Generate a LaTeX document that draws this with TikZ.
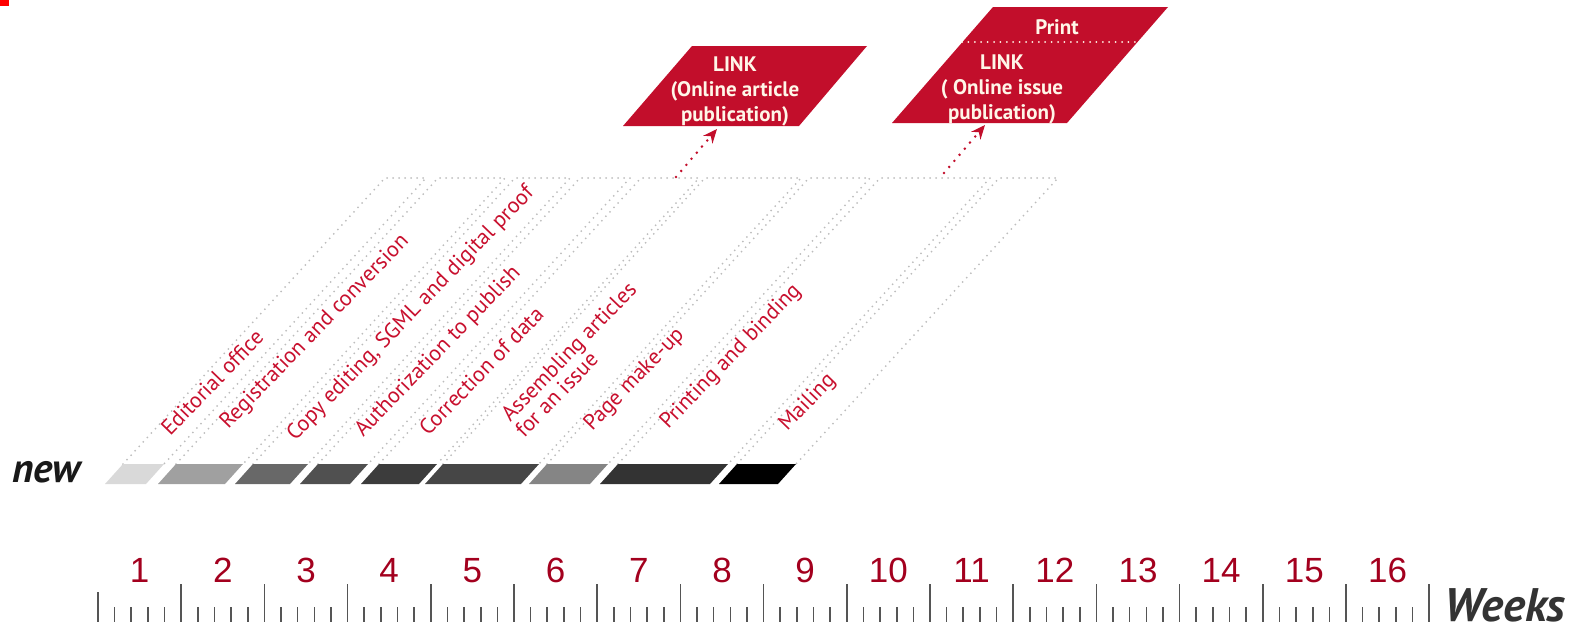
\documentclass[tikz,border=0pt]{standalone}
\usepackage{fontspec}
\setmainfont{PT Sans}
\newfontfamily\numfont{Liberation Sans}
\usepackage{tikz}
\usetikzlibrary{arrows.meta}
\definecolor{boxred}{HTML}{C20E2B}
\definecolor{labred}{HTML}{C8102E}
\definecolor{numred}{HTML}{A3001E}
\definecolor{creme}{HTML}{FFF6E8}
\definecolor{dotgray}{HTML}{BDBDBD}
\definecolor{tickgray}{HTML}{555555}
\definecolor{barA}{HTML}{D9D9D9}
\definecolor{barB}{HTML}{A0A0A0}
\definecolor{barC}{HTML}{686868}
\definecolor{barD}{HTML}{505050}
\definecolor{barE}{HTML}{3C3C3C}
\definecolor{barF}{HTML}{464646}
\definecolor{barG}{HTML}{858585}
\definecolor{barH}{HTML}{333333}
\definecolor{barI}{HTML}{000000}

\begin{document}
\begin{tikzpicture}[x=0.5pt,y=-0.5pt,
  guide/.style={dotgray, line width=1pt, dash pattern=on 0pt off 3pt, line cap=round},
  stage/.style={labred, rotate=46, anchor=base west, inner sep=0pt, font=\fontsize{11}{11}\selectfont},
  linkarrow/.style={boxred, line width=1.4pt, dash pattern=on 0pt off 4pt, line cap=round, -{Stealth[length=7pt,width=6pt]}},
  boxtext/.style={creme, inner sep=0pt, align=center, font=\bfseries\fontsize{10.5}{12.5}\selectfont},
  tick/.style={tickgray, line width=0.8pt},
  weeknum/.style={numred, anchor=base, inner sep=0pt, font=\numfont\fontsize{17.5}{17.5}\selectfont}]
\useasboundingbox (0,0) rectangle (1581,632);
\fill[red] (0,0) rectangle (9,6);

% bars and their dotted guides
\foreach \l/\r/\c in {123/164/barA, 176/243/barB, 253/308/barC, 318/368/barD, 379/437/barE,
                      443/539/barF, 547/608/barG, 618/728/barH, 737/796/barI}{
  \draw[guide] (\l,464) -- ++(262,-286) -- (\r+262,178) -- (\r,464);
  \fill[\c] (\l,464) -- (\r,464) -- (\r-18,484) -- (\l-18,484) -- cycle;
}

% stages
\node[stage] (lab1) at (170,437) {Editorial office};
\node[stage] (lab2) at (228,430) {Registration and conversion};
\node[stage] (lab3) at (295,442) {Copy editing, SGML and digital proof};
\node[stage] (lab4) at (363,438) {Authorization to publish};
\node[stage] (lab5) at (428,437) {Correction of data};
\node[stage] (lab6a) at (510,423) {Assembling articles};
\node[stage] (lab6b) at (524,439) {for an issue};
\node[stage] (lab7) at (592,432) {Page make-up};
\node[stage] (lab8) at (668,430) {Printing and binding};
\node[stage] (lab9) at (787,432) {Mailing};

\node[anchor=base west, inner sep=0pt, font=\bfseries\itshape\fontsize{20.5}{20.5}\selectfont, black!90] (new) at (12,482) {new};

% online publication boxes
\fill[boxred] (623,126) -- (692,46) -- (867,46) -- (799,126) -- cycle;
\node[boxtext] (link1) at (735,91) {LINK\\(Online article\\publication)};
\fill[boxred] (892,123) -- (993,7) -- (1168,7) -- (1067,123) -- cycle;
\draw[creme, line width=1pt, dash pattern=on 0pt off 3.2pt, line cap=round] (962,42) -- (1137,42);
\node[boxtext] (print) at (1057,27) {Print};
\node[boxtext] (link2) at (1002,89) {LINK\\( Online issue\\publication)};

\coordinate (s1) at (676,177);
\coordinate (t1) at (717,129);
\coordinate (s2) at (944,173);
\coordinate (t2) at (985,125);
\draw[linkarrow] (s1) -- (t1);
\draw[linkarrow] (s2) -- (t2);

% week ruler
\draw[tick] (98,592) -- (98,622);
\foreach \k in {1,...,16}
  \draw[tick] ({98+83.2*\k},584) -- ({98+83.2*\k},622);
\foreach \k in {0,...,15}
  \foreach \m in {1,...,4}
    \draw[tick] ({98+83.2*(\k+\m/5)},607) -- ({98+83.2*(\k+\m/5)},622);
\foreach \k in {1,...,16}
  \node[weeknum] (w\k) at ({98+83.2*(\k-0.5)},582) {\k};
\node[anchor=base west, inner sep=0pt, font=\bfseries\itshape\fontsize{23.5}{23.5}\selectfont, black!80] (weeks) at (1444,621) {Weeks};
\end{tikzpicture}
\end{document}
